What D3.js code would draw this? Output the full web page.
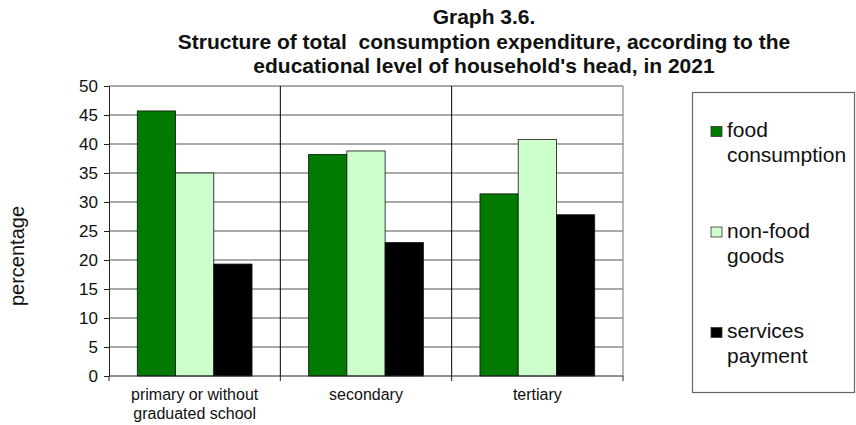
<!DOCTYPE html>
<html>
<head>
<meta charset="utf-8">
<script src="https://cdn.jsdelivr.net/npm/d3@7"></script>
<style>
  body { margin: 0; background: #fff; overflow: hidden; }
  svg { font-family: "Liberation Sans", Arial, sans-serif; display: block; }
</style>
</head>
<body>
<svg id="chart" width="856" height="425"></svg>
<script>
var categories = ['primary or without graduated school', 'secondary', 'tertiary'];
var catLines = [['primary or without', 'graduated school'], ['secondary'], ['tertiary']];
var seriesNames = ['food consumption', 'non-food goods', 'services payment'];
var legendLines = [['food', 'consumption'], ['non-food', 'goods'], ['services', 'payment']];
var food = [45.7, 38.2, 31.4];
var nonFood = [35.0, 38.8, 40.8];
var services = [19.3, 23.0, 27.8];
var yTicks = [0, 5, 10, 15, 20, 25, 30, 35, 40, 45, 50];
var colors = ['#007a00', '#ccffcc', '#000000'];
var titleLines = ['Graph 3.6.', 'Structure of total  consumption expenditure, according to the', "educational level of household's head, in 2021"];

var series = [food, nonFood, services];
var svg = d3.select('#chart');

var plotL = 109, plotR = 623, plotT = 86, plotB = 376;

var x0 = d3.scaleBand().domain(categories).range([plotL, plotR]).paddingInner(0).paddingOuter(0);
var x1 = d3.scaleBand().domain(seriesNames).range([0, x0.bandwidth()]).paddingOuter(0.74).paddingInner(0);
var y = d3.scaleLinear().domain([0, 50]).range([plotB, plotT]);

// grid
svg.append('g').selectAll('line')
   .data(yTicks.filter(function(d){ return d > 0; }))
   .enter().append('line')
   .attr('x1', plotL).attr('x2', plotR)
   .attr('y1', function(d){ return y(d); }).attr('y2', function(d){ return y(d); })
   .attr('stroke', '#555').attr('stroke-width', 1.2);

// right border
svg.append('line')
   .attr('x1', plotR).attr('x2', plotR).attr('y1', plotT).attr('y2', plotB)
   .attr('stroke', '#888').attr('stroke-width', 1.2);

// category separators
svg.append('g').selectAll('line')
   .data(categories.slice(1))
   .enter().append('line')
   .attr('x1', function(d){ return x0(d); }).attr('x2', function(d){ return x0(d); })
   .attr('y1', plotT).attr('y2', plotB)
   .attr('stroke', '#000').attr('stroke-width', 1);

// bars
var data = [];
categories.forEach(function(c, i) {
  seriesNames.forEach(function(s, j) {
    data.push({cat: c, ser: s, idx: j, value: series[j][i]});
  });
});

svg.append('g').selectAll('rect')
   .data(data)
   .enter().append('rect')
   .attr('x', function(d){ return x0(d.cat) + x1(d.ser); })
   .attr('width', x1.bandwidth())
   .attr('y', function(d){ return y(d.value); })
   .attr('height', function(d){ return y(0) - y(d.value); })
   .attr('fill', function(d){ return colors[d.idx]; })
   .attr('stroke', '#111').attr('stroke-width', 0.8);

// y axis
var yAxis = svg.append('g')
   .attr('transform', 'translate(' + plotL + ',0)')
   .call(d3.axisLeft(y).tickValues(yTicks).tickSize(5).tickPadding(6));
yAxis.select('.domain').attr('stroke', '#222');
yAxis.selectAll('.tick line').attr('stroke', '#222');
yAxis.selectAll('text').attr('font-size', 17).attr('fill', '#111')
     .attr('font-family', '"Liberation Sans", Arial, sans-serif');

// x axis
svg.append('line')
   .attr('x1', plotL).attr('x2', plotR).attr('y1', plotB).attr('y2', plotB)
   .attr('stroke', '#222');
var bounds = categories.map(function(c){ return x0(c); }).concat([plotR]);
svg.append('g').selectAll('line')
   .data(bounds)
   .enter().append('line')
   .attr('x1', function(d){ return d; }).attr('x2', function(d){ return d; })
   .attr('y1', plotB).attr('y2', plotB + 5)
   .attr('stroke', '#222');

var xl = svg.append('g').selectAll('text')
   .data(categories)
   .enter().append('text')
   .attr('text-anchor', 'middle')
   .attr('font-size', 16).attr('fill', '#111');
xl.selectAll('tspan')
   .data(function(d, i){ return catLines[i].map(function(t){ return {t: t, c: d}; }); })
   .enter().append('tspan')
   .attr('x', function(d){ return x0(d.c) + x0.bandwidth() / 2; })
   .attr('y', function(d, i){ return 400 + i * 18.5; })
   .text(function(d){ return d.t; });

// y title
svg.append('text')
   .attr('transform', 'translate(24,256) rotate(-90)')
   .attr('text-anchor', 'middle')
   .attr('font-size', 20).attr('fill', '#111')
   .text('percentage');

// title
svg.append('g').selectAll('text')
   .data(titleLines)
   .enter().append('text')
   .attr('x', 484).attr('y', function(d, i){ return 24 + i * 24.5; })
   .attr('text-anchor', 'middle')
   .attr('font-size', 21).attr('font-weight', 'bold').attr('fill', '#111')
   .style('white-space', 'pre')
   .text(function(d){ return d; });

// legend
svg.append('rect')
   .attr('x', 692.5).attr('y', 92.5).attr('width', 162).attr('height', 300)
   .attr('fill', '#fff').attr('stroke', '#666').attr('stroke-width', 1.2);

var lg = svg.append('g').selectAll('g')
   .data(seriesNames)
   .enter().append('g')
   .attr('transform', function(d, i){ return 'translate(711,' + (126.5 + i * 100.5) + ')'; });
lg.append('rect')
   .attr('x', 0).attr('y', 0).attr('width', 11).attr('height', 10)
   .attr('fill', function(d, i){ return colors[i]; })
   .attr('stroke', '#333').attr('stroke-width', 0.8);
lg.append('text')
   .attr('font-size', 21).attr('fill', '#111')
   .selectAll('tspan')
   .data(function(d, i){ return legendLines[i]; })
   .enter().append('tspan')
   .attr('x', 16)
   .attr('y', function(d, i){ return 10.5 + i * 25; })
   .text(function(d){ return d; });
</script>
</body>
</html>
